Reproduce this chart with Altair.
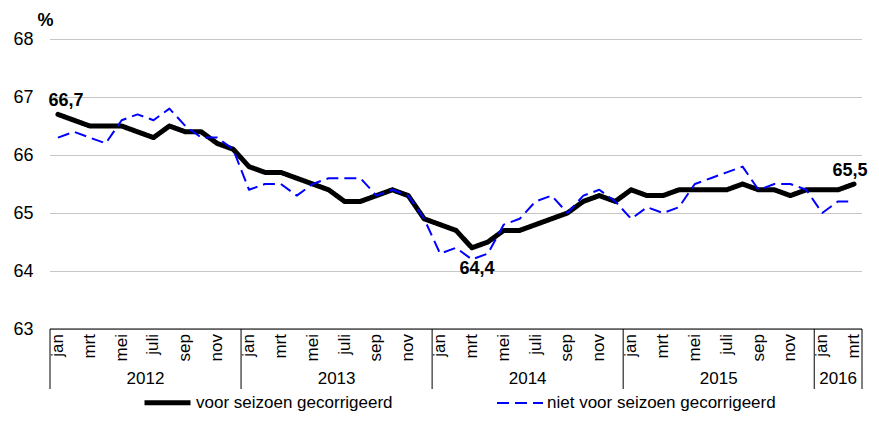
import altair as alt
import pandas as pd

# ---- data ----
months = ["jan", "feb", "mrt", "apr", "mei", "jun", "juli", "aug", "sep", "okt", "nov", "dec"]
years = [2012, 2013, 2014, 2015, 2016]
series_names = ["voor seizoen gecorrigeerd", "niet voor seizoen gecorrigeerd"]

voor_seizoen = [
    66.7, 66.6, 66.5, 66.5, 66.5, 66.4, 66.3, 66.5, 66.4, 66.4, 66.2, 66.1,
    65.8, 65.7, 65.7, 65.6, 65.5, 65.4, 65.2, 65.2, 65.3, 65.4, 65.3, 64.9,
    64.8, 64.7, 64.4, 64.5, 64.7, 64.7, 64.8, 64.9, 65.0, 65.2, 65.3, 65.2,
    65.4, 65.3, 65.3, 65.4, 65.4, 65.4, 65.4, 65.5, 65.4, 65.4, 65.3, 65.4,
    65.4, 65.4, 65.5,
]
niet_voor_seizoen = [
    66.3, 66.4, 66.3, 66.2, 66.6, 66.7, 66.6, 66.8, 66.5, 66.3, 66.3, 66.1,
    65.4, 65.5, 65.5, 65.3, 65.5, 65.6, 65.6, 65.6, 65.3, 65.4, 65.3, 64.9,
    64.3, 64.4, 64.2, 64.3, 64.8, 64.9, 65.2, 65.3, 65.0, 65.3, 65.4, 65.2,
    64.9, 65.1, 65.0, 65.1, 65.5, 65.6, 65.7, 65.8, 65.4, 65.5, 65.5, 65.4,
    65.0, 65.2, 65.2,
]
y_ticks = [63, 64, 65, 66, 67, 68]
labelled_points = [0, 26, 50]          # month index of the annotated values

# ---- tables ----
n = len(voor_seizoen)
rows = []
for i in range(n):
    rows.append({"idx": i, "value": voor_seizoen[i], "series": series_names[0]})
for i in range(n):
    rows.append({"idx": i, "value": niet_voor_seizoen[i], "series": series_names[1]})
df = pd.DataFrame(rows)

month_df = pd.DataFrame({"idx": list(range(0, n, 2)),
                         "m": [months[i % 12] for i in range(0, n, 2)]})
year_start = [12 * k for k in range(len(years))]
year_end = [min(12 * (k + 1), n) for k in range(len(years))]
year_df = pd.DataFrame({"mid": [(s + e - 1) / 2 for s, e in zip(year_start, year_end)],
                        "year": [str(y) for y in years]})
bounds_df = pd.DataFrame({"b": [s - 0.5 for s in year_start] + [n - 0.5]})
axis_df = pd.DataFrame({"x0": [-0.5], "x1": [n - 0.5]})

FONT = "Liberation Sans"
W, H = 812, 290

xscale = alt.Scale(domain=[-0.5, n - 0.5], nice=False, zero=False)
yscale = alt.Scale(domain=[63, 68], nice=False, zero=False)

yenc = alt.Y("value:Q", scale=yscale,
             axis=alt.Axis(values=y_ticks, grid=True, gridDash=[1, 1], gridColor="#8c8c8c",
                           domain=False, ticks=False, labelFontSize=18, labelPadding=17,
                           labelColor="black", labelFont=FONT,
                           title="%", titleAngle=0, titleFontSize=18, titleFontWeight="bold",
                           titleFont=FONT, titleAlign="center", titleBaseline="alphabetic",
                           titleX=-5, titleY=-14, titleColor="black"))

legend = alt.Legend(orient="none", legendX=92, legendY=338, direction="horizontal",
                    title=None, symbolType="stroke", symbolSize=2116, labelFontSize=17,
                    labelFont=FONT, labelColor="black", labelOffset=3, columnPadding=100,
                    labelLimit=400, padding=0)

color = alt.Color("series:N", scale=alt.Scale(domain=series_names, range=["black", "#0000ff"]),
                  legend=legend)
dash = alt.StrokeDash("series:N", scale=alt.Scale(domain=series_names, range=[[1, 0], [12, 6]]),
                      legend=legend)
swidth = alt.StrokeWidth("series:N", scale=alt.Scale(domain=series_names, range=[5, 2]),
                         legend=legend)

base = alt.Chart(df)
line_voor = base.transform_filter(alt.datum.series == series_names[0]).mark_line(
    strokeJoin="round", strokeCap="round").encode(
    x=alt.X("idx:Q", scale=xscale, axis=None), y=yenc,
    color=color, strokeDash=dash, strokeWidth=swidth)
line_niet = base.transform_filter(alt.datum.series == series_names[1]).mark_line(
    strokeJoin="round").encode(
    x=alt.X("idx:Q", scale=xscale, axis=None), y=yenc,
    color=color, strokeDash=dash, strokeWidth=swidth)

# value annotations
offsets = {0: (8, -13), 26: (5, 21), 50: (-4, -13)}
label_layers = []
for i in labelled_points:
    dx, dy = offsets[i]
    label_layers.append(
        base.transform_filter((alt.datum.series == series_names[0]) & (alt.datum.idx == i))
        .transform_calculate(lbl="replace(format(datum.value, '.1f'), '.', ',')")
        .mark_text(font=FONT, fontSize=18, fontWeight="bold", color="black", dx=dx, dy=dy)
        .encode(x=alt.X("idx:Q", scale=xscale, axis=None), y=yenc, text="lbl:N")
    )

# category axis drawn as a box with month and year labels
axis_line = alt.Chart(axis_df).mark_rule(color="black", strokeWidth=1).encode(
    x=alt.X("x0:Q", scale=xscale, axis=None), x2="x1:Q", y=alt.value(H))
separators = alt.Chart(bounds_df).mark_rule(color="black", strokeWidth=1).encode(
    x=alt.X("b:Q", scale=xscale, axis=None), y=alt.value(H), y2=alt.value(H + 60))
month_text = alt.Chart(month_df).mark_text(
    font=FONT, fontSize=17, angle=270, align="right", baseline="middle", color="black").encode(
    x=alt.X("idx:Q", scale=xscale, axis=None), y=alt.value(H + 5), text="m:N")
year_text = alt.Chart(year_df).mark_text(
    font=FONT, fontSize=17, align="center", baseline="middle", color="black").encode(
    x=alt.X("mid:Q", scale=xscale, axis=None), y=alt.value(H + 50), text="year:N")

chart = alt.layer(
    line_voor, line_niet, *label_layers, axis_line, separators, month_text, year_text
).properties(
    width=W, height=H,
    autosize=alt.AutoSizeParams(type="none"),
    padding={"left": 42, "top": 31, "right": 9, "bottom": 84},
).configure(font=FONT).configure_view(stroke=None, strokeWidth=0)

chart.save("out.html", embed_options={"renderer": "svg", "actions": False})
